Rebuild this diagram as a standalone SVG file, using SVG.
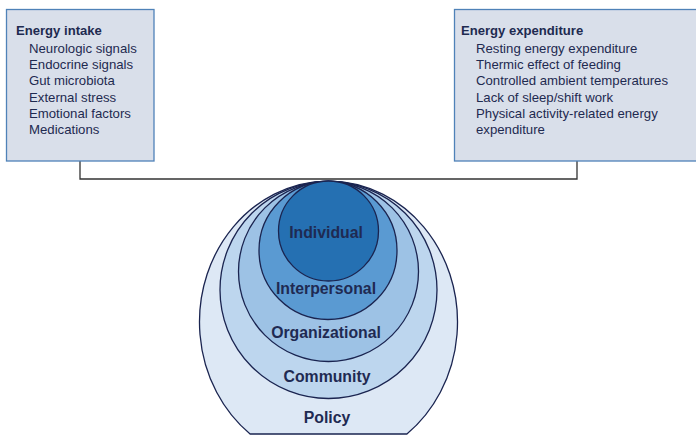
<svg xmlns="http://www.w3.org/2000/svg" width="696" height="435" viewBox="0 0 696 435">
  <style>
    .box { fill: #d9dfea; stroke: #4f82b8; stroke-width: 1.3; }
    .ttl { font-family: "Liberation Sans", Arial, sans-serif; font-size: 13.1px; font-weight: bold; fill: #1e2a50; }
    .itm { font-family: "Liberation Sans", Arial, sans-serif; font-size: 13.2px; fill: #1e2a50; }
    .ring { stroke: #1a2450; stroke-width: 1.3; }
    .lvl { font-family: "Liberation Sans", Arial, sans-serif; font-size: 15.8px; font-weight: bold; fill: #1f2a52; text-anchor: middle; }
    .conn { fill: none; stroke: #333333; stroke-width: 1.3; }
  </style>
  <rect width="696" height="435" fill="#ffffff"/>

  <!-- connector joining both boxes above the nested levels -->
  <g id="connectors">
    <path class="conn" d="M80,161 V179 H577 V161"/>
  </g>

  <g id="energy-intake">
    <rect class="box" x="6.5" y="9.5" width="147.5" height="151.5"/>
    <text class="ttl" x="16" y="34.5">Energy intake</text>
    <text class="itm" x="29" y="53">Neurologic signals</text>
    <text class="itm" x="29" y="69.2">Endocrine signals</text>
    <text class="itm" x="29" y="85.4">Gut microbiota</text>
    <text class="itm" x="29" y="101.6">External stress</text>
    <text class="itm" x="29" y="117.8">Emotional factors</text>
    <text class="itm" x="29" y="134">Medications</text>
  </g>

  <g id="energy-expenditure">
    <rect class="box" x="454.5" y="9.5" width="250" height="151.5"/>
    <text class="ttl" x="461" y="34.5">Energy expenditure</text>
    <text class="itm" x="476" y="53">Resting energy expenditure</text>
    <text class="itm" x="476" y="69.2">Thermic effect of feeding</text>
    <text class="itm" x="476" y="85.4">Controlled ambient temperatures</text>
    <text class="itm" x="476" y="101.6">Lack of sleep/shift work</text>
    <text class="itm" x="476" y="117.8">Physical activity-related energy</text>
    <text class="itm" x="476" y="134">expenditure</text>
  </g>

  <!-- nested levels, outermost first -->
  <g id="policy">
    <path class="ring" fill="#dde8f5" d="M250.1,434 A129,141 0 1 1 406.9,434 Z"/>
    <text class="lvl" x="327" y="422.5">Policy</text>
  </g>
  <g id="community">
    <circle class="ring" fill="#bdd6ee" cx="328.5" cy="290" r="108.5"/>
    <text class="lvl" x="327" y="381.5">Community</text>
  </g>
  <g id="organizational">
    <circle class="ring" fill="#9dc2e5" cx="328.5" cy="271.5" r="90"/>
    <text class="lvl" x="326" y="337.5">Organizational</text>
  </g>
  <g id="interpersonal">
    <circle class="ring" fill="#5a9ad2" cx="328" cy="250.5" r="69"/>
    <text class="lvl" x="326" y="293.5">Interpersonal</text>
  </g>
  <g id="individual">
    <circle class="ring" fill="#2570b2" cx="328.5" cy="231" r="50"/>
    <text class="lvl" x="326" y="237.5">Individual</text>
  </g>
</svg>
